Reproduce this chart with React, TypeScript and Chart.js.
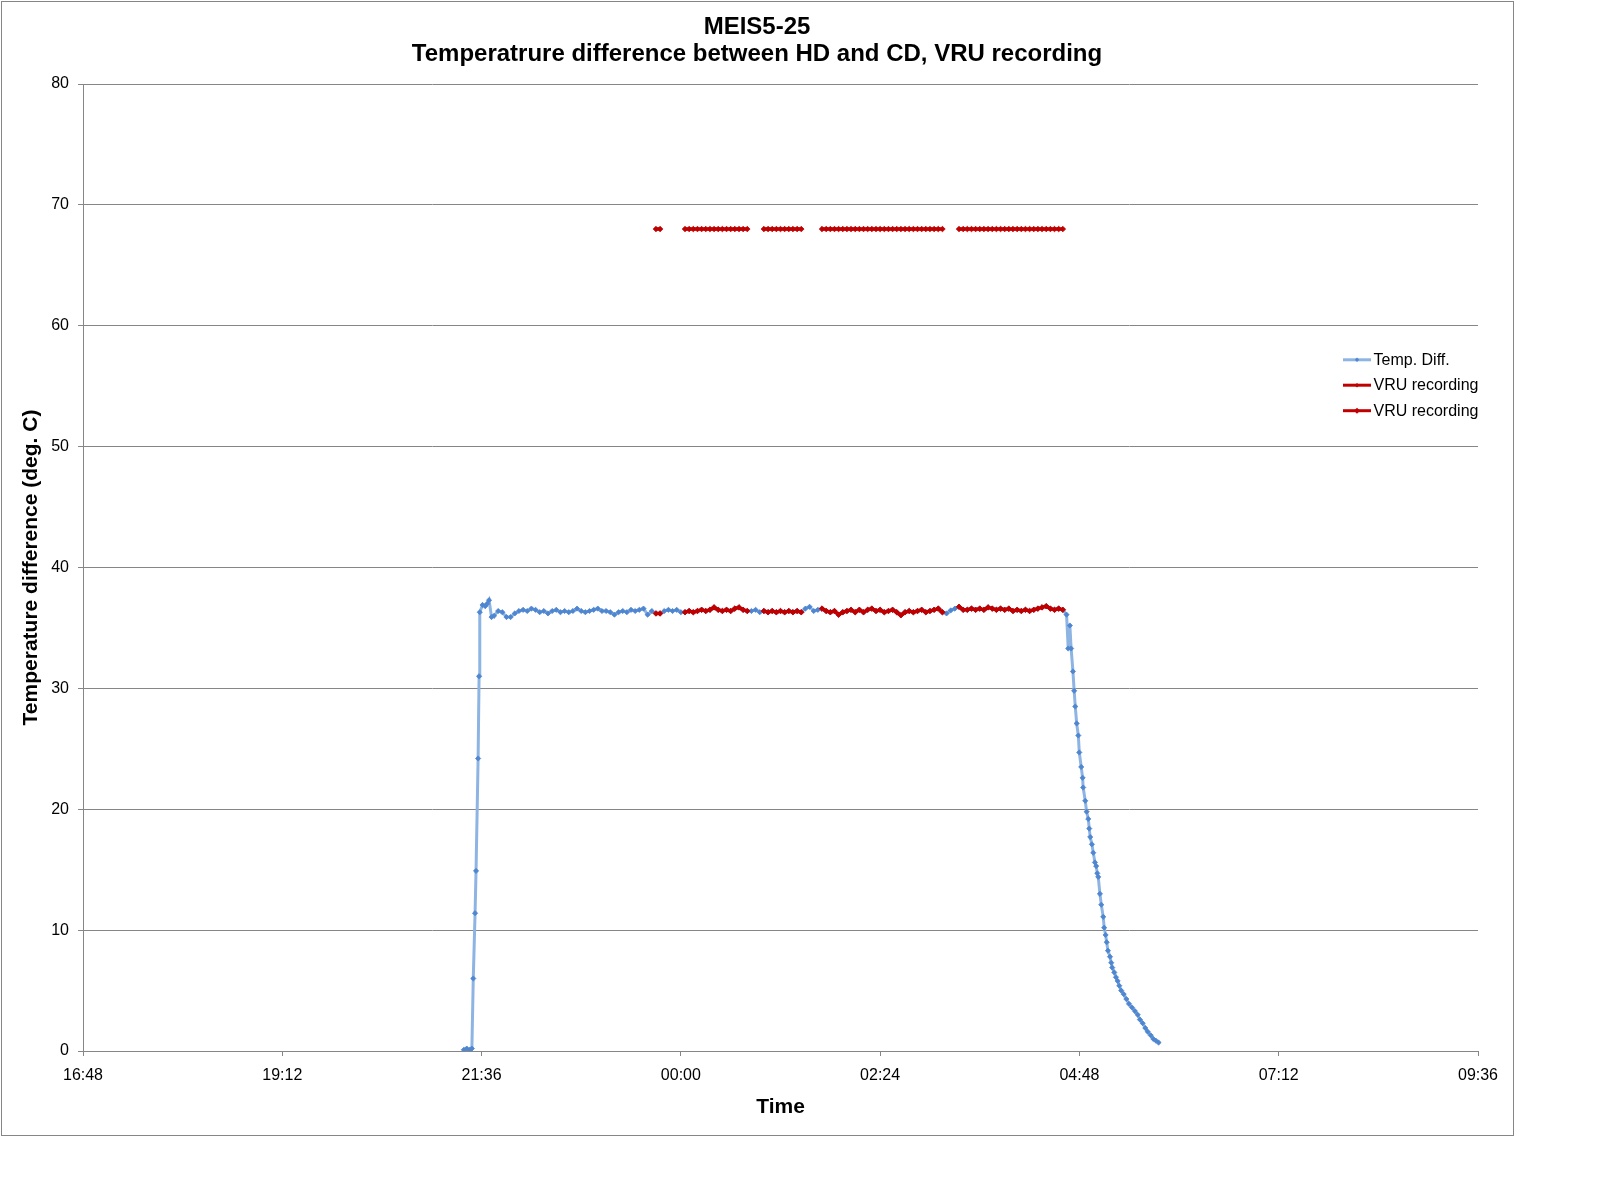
import React, { useEffect, useRef } from 'react';
import { Chart, registerables } from 'chart.js';

Chart.register(...registerables);

// ---------- text ----------
const TITLE_LINES = ['MEIS5-25', 'Temperatrure difference between HD and CD, VRU recording'];
const X_TITLE = 'Time';
const Y_TITLE = 'Temperature difference (deg. C)';
const SERIES_LABELS = ['Temp. Diff.', 'VRU recording', 'VRU recording'];

// ---------- axes (x in minutes after 16:48) ----------
const X_TICK_LABELS = ['16:48', '19:12', '21:36', '00:00', '02:24', '04:48', '07:12', '09:36'];
const X_MIN = 0;
const X_MAX = 1008;
const X_STEP = 144;
const Y_MIN = 0;
const Y_MAX = 80;
const Y_STEP = 10;

// ---------- Temp. Diff. : warm-up ----------
const RISE_TIME = [275.2, 277.3, 279.5, 281.0, 282.0, 283.3, 284.0, 285.5, 286.2, 286.7, 288.7, 290.6, 292.0, 293.4, 295.2];
const RISE_VALUE = [0.1, 0.2, 0.1, 0.2, 6.0, 11.4, 14.9, 24.2, 31.0, 36.3, 36.9, 36.8, 37.0, 37.3, 35.9];

// ---------- Temp. Diff. : plateau ----------
const PLATEAU_TIME = [
  297, 300, 303, 306, 309, 312, 315, 318, 321, 324, 327, 330, 333, 336, 339, 342, 345, 348, 351, 354,
  357, 360, 363, 366, 369, 372, 375, 378, 381, 384, 387, 390, 393, 396, 399, 402, 405, 408, 411, 414,
  417, 420, 423, 426, 429, 432, 435, 438, 441, 444, 447, 450, 453, 456, 459, 462, 465, 468, 471, 474,
  477, 480, 483, 486, 489, 492, 495, 498, 501, 504, 507, 510, 513, 516, 519, 522, 525, 528, 531, 534,
  537, 540, 543, 546, 549, 552, 555, 558, 561, 564, 567, 570, 573, 576, 579, 582, 585, 588, 591, 594,
  597, 600, 603, 606, 609, 612, 615, 618, 621, 624, 627, 630, 633, 636, 639, 642, 645, 648, 651, 654,
  657, 660, 663, 666, 669, 672, 675, 678, 681, 684, 687, 690, 693, 696, 699, 702, 705, 708,
];
const PLATEAU_VALUE = [
  36.0, 36.4, 36.3, 35.9, 35.9, 36.2, 36.4, 36.5, 36.4, 36.6, 36.5, 36.3, 36.4, 36.2, 36.4, 36.5, 36.3, 36.4, 36.3, 36.4,
  36.6, 36.4, 36.3, 36.4, 36.5, 36.6, 36.4, 36.4, 36.3, 36.1, 36.3, 36.4, 36.3, 36.5, 36.4, 36.5, 36.6, 36.1, 36.4, 36.2,
  36.2, 36.4, 36.5, 36.4, 36.5, 36.3, 36.3, 36.4, 36.3, 36.4, 36.5, 36.4, 36.5, 36.7, 36.5, 36.4, 36.5, 36.4, 36.6, 36.7,
  36.5, 36.4, 36.4, 36.5, 36.3, 36.4, 36.3, 36.4, 36.3, 36.4, 36.3, 36.4, 36.3, 36.4, 36.3, 36.6, 36.75, 36.4, 36.5, 36.6,
  36.4, 36.3, 36.4, 36.1, 36.3, 36.4, 36.5, 36.3, 36.5, 36.3, 36.5, 36.6, 36.4, 36.5, 36.3, 36.4, 36.5, 36.3, 36.05, 36.3,
  36.4, 36.3, 36.4, 36.5, 36.3, 36.4, 36.5, 36.6, 36.3, 36.2, 36.45, 36.6, 36.75, 36.5, 36.5, 36.6, 36.5, 36.6, 36.5, 36.7,
  36.6, 36.5, 36.6, 36.5, 36.6, 36.4, 36.5, 36.4, 36.5, 36.4, 36.5, 36.6, 36.7, 36.8, 36.6, 36.5, 36.6, 36.5,
];

// ---------- Temp. Diff. : cool-down ----------
const DECAY_TIME = [
  710.7, 711.9, 713.1, 714.0, 715.3, 716.2, 717.0, 718.0, 719.2, 719.9, 721.3, 722.3, 722.7, 724.2, 725.2, 726.4,
  727.1, 727.8, 729.0, 730.0, 731.2, 732.1, 732.9, 733.6, 734.8, 735.8, 737.2, 737.9, 738.9, 739.7, 740.6, 742.1,
  743.0, 743.7, 745.2, 746.4, 747.6, 748.8, 750.2, 752.0, 753.9, 755.8, 758.0, 760.1, 762.1, 763.7, 765.7, 767.6,
  769.3, 771.5, 773.4, 775.3, 777.2,
];
const DECAY_VALUE = [
  36.1, 33.3, 35.2, 33.3, 31.4, 29.8, 28.5, 27.1, 26.1, 24.7, 23.5, 22.6, 21.8, 20.7, 19.8, 19.2,
  18.4, 17.7, 17.1, 16.4, 15.6, 15.3, 14.7, 14.4, 13.0, 12.1, 11.1, 10.2, 9.6, 9.0, 8.3, 7.8,
  7.3, 6.9, 6.5, 6.1, 5.8, 5.4, 5.0, 4.7, 4.3, 3.9, 3.6, 3.3, 3.0, 2.6, 2.3, 1.9,
  1.6, 1.3, 1.0, 0.85, 0.7,
];

// ---------- VRU recording ----------
const VRU_LEVEL = 68;
const VRU_INTERVALS: [number, number][] = [
  [412, 418],
  [434, 480],
  [492, 519],
  [534, 621],
  [633, 708],
];

// ---------- colours ----------
const BLUE_LINE = '#8DB4E3';
const BLUE_MARK = '#4F86D0';
const RED = '#C00000';
const GRID = '#868686';
const FONT = '"Liberation Sans", Arial, Helvetica, sans-serif';

const decorPlugin = {
  id: 'decor',
  beforeDraw(chart: any) {
    const { ctx, width, height } = chart;
    ctx.save();
    ctx.fillStyle = '#ffffff';
    ctx.fillRect(0, 0, width, height);
    ctx.restore();
  },
  afterDraw(chart: any) {
    const { ctx, chartArea } = chart;
    ctx.save();
    // outer frame
    ctx.strokeStyle = GRID;
    ctx.lineWidth = 1;
    ctx.strokeRect(1.5, 1.5, 1512, 1134);

    ctx.fillStyle = '#000000';
    ctx.textAlign = 'center';
    ctx.textBaseline = 'middle';
    // title
    ctx.font = `bold 24px ${FONT}`;
    ctx.fillText(TITLE_LINES[0], 757, 27.5);
    ctx.fillText(TITLE_LINES[1], 757, 54.5);
    // x title
    ctx.font = `bold 21px ${FONT}`;
    ctx.fillText(X_TITLE, (chartArea.left + chartArea.right) / 2, 1107.5);
    // y title
    ctx.save();
    ctx.translate(31, (chartArea.top + chartArea.bottom) / 2);
    ctx.rotate(-Math.PI / 2);
    ctx.fillText(Y_TITLE, 0, 0);
    ctx.restore();

    // legend
    const rows = [359.8, 385.2, 410.7];
    const ds = chart.data.datasets;
    ctx.font = `16px ${FONT}`;
    ctx.textAlign = 'left';
    for (let i = 0; i < ds.length; i++) {
      const y = rows[i];
      ctx.strokeStyle = ds[i].borderColor;
      ctx.lineWidth = 3;
      ctx.beginPath();
      ctx.moveTo(1343, y);
      ctx.lineTo(1371, y);
      ctx.stroke();
      ctx.fillStyle = ds[i].pointBackgroundColor;
      ctx.beginPath();
      const r = i === 2 ? 3 : 2.2;
      ctx.moveTo(1357, y - r);
      ctx.lineTo(1357 + r, y);
      ctx.lineTo(1357, y + r);
      ctx.lineTo(1357 - r, y);
      ctx.closePath();
      ctx.fill();
      ctx.fillStyle = '#000000';
      ctx.fillText(ds[i].label, 1373.5, y + 0.5);
    }
    ctx.restore();
  },
};

function inVru(t: number) {
  return VRU_INTERVALS.some(([a, b]) => t >= a && t <= b);
}

export default function App() {
  const canvasRef = useRef<HTMLCanvasElement | null>(null);

  useEffect(() => {
    const canvas = canvasRef.current;
    if (!canvas) return;

    const times = [...RISE_TIME, ...PLATEAU_TIME, ...DECAY_TIME];
    const values = [...RISE_VALUE, ...PLATEAU_VALUE, ...DECAY_VALUE];
    const temp = times.map((t, i) => ({ x: t, y: values[i] }));
    const vruTop = times.map((t) => ({ x: t, y: inVru(t) ? VRU_LEVEL : null }));
    const vruTemp = times.map((t, i) => ({ x: t, y: inVru(t) ? values[i] : null }));

    const chart = new Chart(canvas, {
      type: 'line',
      data: {
        datasets: [
          {
            label: SERIES_LABELS[0],
            data: temp,
            borderColor: BLUE_LINE,
            borderWidth: 3,
            pointStyle: 'rectRot',
            pointRadius: 2.6,
            pointBackgroundColor: BLUE_MARK,
            pointBorderColor: BLUE_MARK,
            pointBorderWidth: 0.8,
            tension: 0,
            order: 3,
          },
          {
            label: SERIES_LABELS[1],
            data: vruTop,
            borderColor: RED,
            borderWidth: 3.5,
            pointStyle: 'rectRot',
            pointRadius: 2.8,
            pointBackgroundColor: RED,
            pointBorderColor: RED,
            pointBorderWidth: 0.8,
            spanGaps: false,
            tension: 0,
            order: 1,
          },
          {
            label: SERIES_LABELS[2],
            data: vruTemp,
            borderColor: RED,
            borderWidth: 3.5,
            pointStyle: 'rectRot',
            pointRadius: 2.8,
            pointBackgroundColor: RED,
            pointBorderColor: RED,
            pointBorderWidth: 0.8,
            spanGaps: false,
            tension: 0,
            order: 2,
          },
        ],
      } as any,
      options: {
        animation: false,
        responsive: false,
        devicePixelRatio: 1,
        layout: { padding: { left: 0, top: 84, right: 120, bottom: 0 } },
        plugins: {
          legend: { display: false },
          title: { display: false },
          tooltip: { enabled: false },
        },
        scales: {
          x: {
            type: 'linear',
            min: X_MIN,
            max: X_MAX,
            afterFit: (s: any) => {
              s.height = 151;
            },
            grid: {
              drawOnChartArea: false,
              drawTicks: true,
              tickLength: 5,
              color: GRID,
              lineWidth: 1,
            },
            border: { display: true, color: GRID, width: 1 },
            ticks: {
              stepSize: X_STEP,
              autoSkip: false,
              maxRotation: 0,
              minRotation: 0,
              padding: 10,
              color: '#000000',
              font: { family: FONT, size: 16 },
              callback: (_v: any, i: number) => X_TICK_LABELS[i],
            },
          },
          y: {
            type: 'linear',
            min: Y_MIN,
            max: Y_MAX,
            afterFit: (s: any) => {
              s.width = 83;
            },
            grid: {
              drawOnChartArea: true,
              drawTicks: true,
              tickLength: 5,
              color: GRID,
              lineWidth: 1,
            },
            border: { display: true, color: GRID, width: 1 },
            ticks: {
              stepSize: Y_STEP,
              padding: 9,
              color: '#000000',
              font: { family: FONT, size: 16 },
            },
          },
        },
      } as any,
      plugins: [decorPlugin],
    });

    return () => chart.destroy();
  }, []);

  return (
    <div style={{ position: 'absolute', left: 0, top: 0, width: 1598, height: 1202, background: '#fff' }}>
      <canvas ref={canvasRef} width={1598} height={1202} style={{ width: 1598, height: 1202, display: 'block' }} />
    </div>
  );
}
